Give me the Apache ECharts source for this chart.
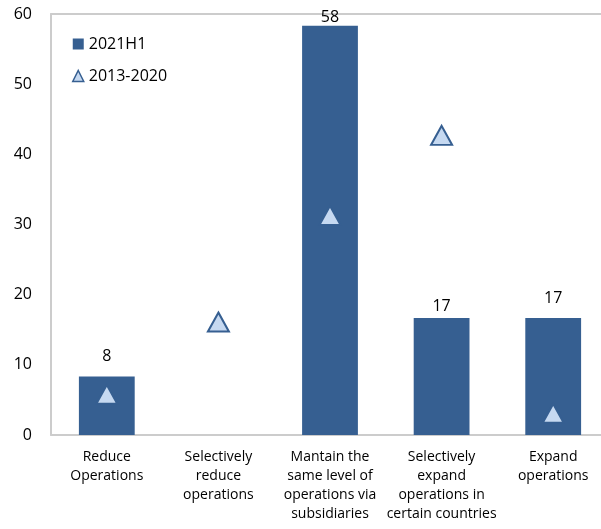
<!DOCTYPE html>
<html>
<head>
<meta charset="utf-8">
<script src="https://cdn.jsdelivr.net/npm/echarts@6/dist/echarts.min.js"></script>
<style>
html,body{margin:0;padding:0;background:#fff;overflow:hidden;}
#chart{width:610px;height:529px;}
</style>
</head>
<body>
<div id="chart"></div>
<script>
var categories = [
  "Reduce\nOperations",
  "Selectively\nreduce\noperations",
  "Mantain the\nsame level of\noperations via\nsubsidiaries",
  "Selectively\nexpand\noperations in\ncertain countries",
  "Expand\noperations"
];
var values2021H1 = [8.33, 0, 58.33, 16.67, 16.67];
var labels2021H1 = ["8", "", "58", "17", "17"];
var values2013_2020 = [5.8, 16.1, 31.3, 42.7, 3.1];
var yTicks = [0, 10, 20, 30, 40, 50, 60];

var FONT = "'Open Sans', 'Noto Sans', sans-serif";
var BAR = "#365F91";
var LIGHT = "#C6D9F1";
var AXIS = "#cccccc";

var labelDist = [12, 0, 0, 4, 12];

var chart = echarts.init(document.getElementById('chart'), null, {renderer: 'canvas'});
chart.setOption({
  animation: false,
  backgroundColor: '#ffffff',
  textStyle: {fontFamily: FONT, color: '#000'},
  grid: {left: 51, right: 1, top: 14, bottom: 94, containLabel: false},
  legend: {
    orient: 'vertical',
    left: 72,
    top: 36,
    padding: 0,
    itemGap: 16,
    itemWidth: 11,
    itemHeight: 11,
    textStyle: {fontFamily: FONT, fontSize: 16, color: '#000'},
    data: [
      {name: '2021H1', icon: 'rect', itemStyle: {color: BAR, borderWidth: 0}},
      {name: '2013-2020', icon: 'triangle', itemStyle: {color: LIGHT, borderColor: BAR, borderWidth: 1.5}}
    ]
  },
  xAxis: [
    {
      type: 'category',
      data: categories,
      position: 'bottom',
      axisLine: {show: true, lineStyle: {color: AXIS, width: 2}},
      axisTick: {show: false},
      axisLabel: {
        interval: 0,
        margin: 13,
        fontFamily: FONT,
        fontSize: 14,
        lineHeight: 19,
        color: '#000',
        align: 'center',
        verticalAlign: 'top'
      }
    },
    {
      type: 'category',
      data: categories,
      position: 'top',
      axisLine: {show: true, lineStyle: {color: AXIS, width: 2}},
      axisTick: {show: false},
      axisLabel: {show: false}
    }
  ],
  yAxis: {
    type: 'value',
    min: yTicks[0],
    max: yTicks[yTicks.length - 1],
    interval: yTicks[1] - yTicks[0],
    axisLine: {show: true, lineStyle: {color: AXIS, width: 2}},
    axisTick: {show: false},
    splitLine: {show: false},
    axisLabel: {margin: 19, fontFamily: FONT, fontSize: 16, color: '#000'}
  },
  series: [
    {
      name: '2021H1',
      type: 'bar',
      barWidth: '50%',
      itemStyle: {color: BAR},
      data: values2021H1.map(function (v, i) {
        return {
          value: v,
          label: {
            show: labels2021H1[i] !== '',
            position: 'top',
            distance: labelDist[i],
            formatter: labels2021H1[i],
            fontFamily: FONT,
            fontSize: 16,
            color: '#000'
          }
        };
      }),
      z: 2
    },
    {
      name: '2013-2020',
      type: 'scatter',
      symbol: 'triangle',
      symbolSize: [21, 19],
      itemStyle: {color: LIGHT, borderColor: BAR, borderWidth: 2, opacity: 1},
      data: values2013_2020,
      z: 3
    }
  ]
});
</script>
</body>
</html>
